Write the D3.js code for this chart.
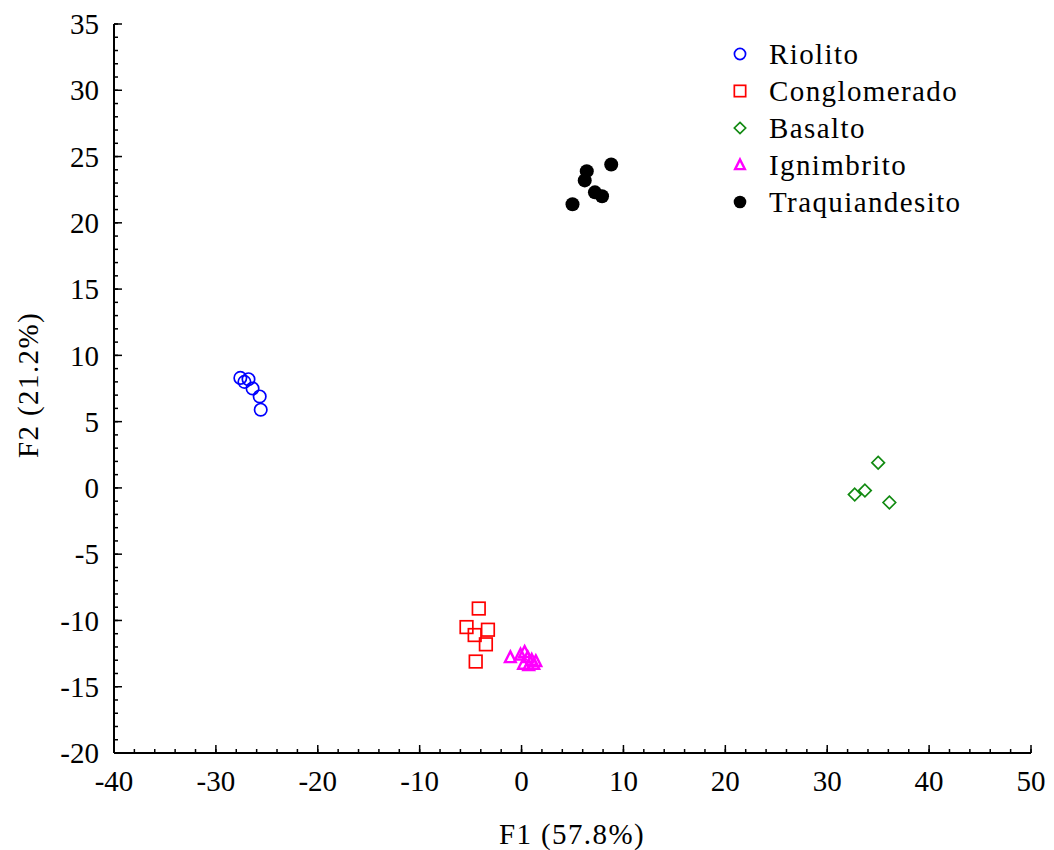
<!DOCTYPE html>
<html><head><meta charset="utf-8">
<script src="https://cdn.jsdelivr.net/npm/d3@7"></script>
<style>body{margin:0;background:#fff}svg{display:block}text{font-family:"Liberation Serif","Times New Roman",serif;fill:#000}.wide{letter-spacing:1.4px}</style>
</head><body>
<svg id="c" width="1054" height="850"></svg>
<script>
const riolito = [[-27.6,8.3],[-27.2,8.0],[-26.8,8.2],[-26.4,7.5],[-25.7,6.9],[-25.6,5.9]];
const conglomerado = [[-4.2,-9.1],[-5.4,-10.5],[-4.6,-11.1],[-3.3,-10.7],[-3.5,-11.8],[-4.5,-13.1]];
const basalto = [[35.0,1.9],[33.7,-0.2],[32.7,-0.5],[36.1,-1.1]];
const ignimbrito = [[-1.1,-12.8],[-0.1,-12.6],[0.3,-12.4],[0.6,-12.8],[1.0,-13.0],[0.2,-13.3],[1.2,-13.3],[1.4,-13.1],[0.7,-13.4]];
const traquiandesito = [[6.4,23.9],[6.2,23.2],[7.2,22.3],[7.9,22.0],[8.8,24.4],[5.0,21.4]];
const seriesNames = ["Riolito","Conglomerado","Basalto","Ignimbrito","Traquiandesito"];
const xTicks = [-40,-30,-20,-10,0,10,20,30,40,50];
const yTicks = [35,30,25,20,15,10,5,0,-5,-10,-15,-20];
const xLabel = "F1 (57.8%)", yLabel = "F2 (21.2%)";

const series = [
  {name:seriesNames[0], data:riolito, color:"#0000ff", shape:"circle"},
  {name:seriesNames[1], data:conglomerado, color:"#ff0000", shape:"square"},
  {name:seriesNames[2], data:basalto, color:"#118a11", shape:"diamond"},
  {name:seriesNames[3], data:ignimbrito, color:"#ff00ff", shape:"triangle"},
  {name:seriesNames[4], data:traquiandesito, color:"#000000", shape:"dot"}
];

const svg = d3.select("#c");
const L=114, R=1031, T=24, B=753, FS=29;
const x = d3.scaleLinear().domain([-40,50]).range([L,R]);
const y = d3.scaleLinear().domain([-20,35]).range([B,T]);

function drawSym(g, shape, color, s){
  if(shape==="circle") g.append("circle").attr("r",6.2*s).attr("fill","none").attr("stroke",color).attr("stroke-width",1.7);
  else if(shape==="square") g.append("rect").attr("x",-6.3*s).attr("y",-6.3*s).attr("width",12.6*s).attr("height",12.6*s).attr("fill","none").attr("stroke",color).attr("stroke-width",1.7);
  else if(shape==="diamond") g.append("path").attr("d",`M0,${-6.3*s}L${6.3*s},0L0,${6.3*s}L${-6.3*s},0Z`).attr("fill","none").attr("stroke",color).attr("stroke-width",1.7);
  else if(shape==="triangle") g.append("path").attr("d",`M0,${-6.2*s}L${5.4*s},${4.6*s}L${-5.4*s},${4.6*s}Z`).attr("fill","none").attr("stroke",color).attr("stroke-width",2.4);
  else g.append("circle").attr("r",7*s).attr("fill",color);
}

// axes
const minorY = d3.range(-20,36,1), minorX = d3.range(-40,51,2);
const ax = svg.append("g");
ax.selectAll(".my").data(minorY).join("line").attr("x1",L).attr("x2",L+4).attr("y1",d=>y(d)).attr("y2",d=>y(d)).attr("stroke","#000").attr("stroke-width",1.5);
ax.selectAll(".Mx").data(yTicks).join("line").attr("x1",L).attr("x2",L+8).attr("y1",d=>y(d)).attr("y2",d=>y(d)).attr("stroke","#000").attr("stroke-width",1.5);
ax.selectAll(".mx").data(minorX).join("line").attr("y1",B).attr("y2",B-4).attr("x1",d=>x(d)).attr("x2",d=>x(d)).attr("stroke","#000").attr("stroke-width",1.5);
ax.selectAll(".Mxx").data(xTicks).join("line").attr("y1",B).attr("y2",B-8).attr("x1",d=>x(d)).attr("x2",d=>x(d)).attr("stroke","#000").attr("stroke-width",1.5);
ax.append("line").attr("x1",L).attr("x2",L).attr("y1",T).attr("y2",B).attr("stroke","#000").attr("stroke-width",2);
ax.append("line").attr("x1",L).attr("x2",R).attr("y1",B).attr("y2",B).attr("stroke","#000").attr("stroke-width",2);
ax.selectAll(".yl").data(yTicks).join("text").attr("x",L-15).attr("y",d=>Math.max(y(d),16)).attr("dy","0.35em").attr("text-anchor","end").attr("font-size",FS).text(d=>d);
ax.selectAll(".xl").data(xTicks).join("text").attr("x",d=>x(d)).attr("y",B+38).attr("text-anchor","middle").attr("font-size",FS).text(d=>d);
svg.append("text").attr("class","wide").attr("x",572).attr("y",844).attr("text-anchor","middle").attr("font-size",FS).text(xLabel);
svg.append("text").attr("class","wide").attr("transform","translate(38,385) rotate(-90)").attr("text-anchor","middle").attr("font-size",FS).text(yLabel);

// points
series.forEach(s=>{
  s.data.forEach(p=>{
    const g = svg.append("g").attr("transform",`translate(${x(p[0])},${y(p[1])})`);
    drawSym(g, s.shape, s.color, 1);
  });
});

// legend
series.forEach((s,i)=>{
  const ly = 54 + i*37;
  const g = svg.append("g").attr("transform",`translate(740,${ly})`);
  drawSym(g, s.shape, s.color, 0.9);
  svg.append("text").attr("class","wide").attr("x",769).attr("y",ly).attr("dy","0.35em").attr("font-size",FS).text(s.name);
});
</script>
</body></html>
